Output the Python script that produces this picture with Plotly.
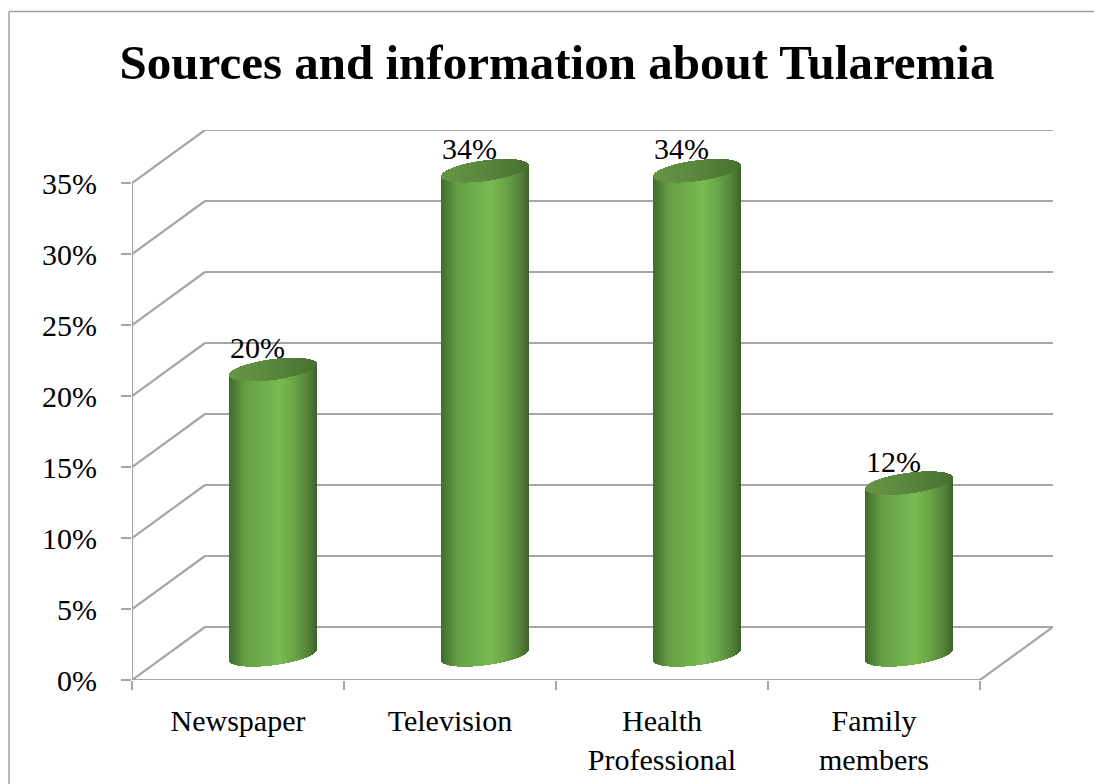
import numpy as np
import plotly.graph_objects as go

# Chart content
title_text = "Sources and information about Tularemia"
categories = ["Newspaper", "Television", "Health<br>Professional", "Family<br>members"]
shares = [20, 34, 34, 12]
share_labels = ["20%", "34%", "34%", "12%"]
y_ticks = [0, 5, 10, 15, 20, 25, 30, 35]
y_tick_labels = ["0%", "5%", "10%", "15%", "20%", "25%", "30%", "35%"]

# Page layout in pixels
WIDTH, HEIGHT = 1094, 784
LEFT, RIGHT, TOP, BOTTOM = 132, 1053, 130, 680
PX_X = 212.0      # pixels per category
PX_Y = 14.2       # pixels per percentage point
DEPTH_X = 73 / PX_X
DEPTH_Y = 53 / PX_Y

GRID = "#a6a6a6"
FONT = "Liberation Serif"

# Body shading, left to right across a cylinder
BODY_STOPS = [(0.0, (64, 108, 44)), (0.06, (76, 124, 52)), (0.18, (102, 158, 68)),
              (0.42, (112, 176, 78)), (0.58, (120, 186, 82)), (0.75, (104, 162, 70)),
              (0.90, (84, 130, 56)), (1.0, (60, 98, 42))]
CAP_STOPS = [(0.0, (104, 150, 72)), (0.5, (88, 134, 60)), (1.0, (72, 112, 48))]


def shade(t, stops):
    pos = [s[0] for s in stops]
    rgb = [np.interp(t, pos, [s[1][c] for s in stops]) for c in range(3)]
    return "rgb({:.0f},{:.0f},{:.0f})".format(*rgb)


def cylinder_traces(index, value):
    """Body and cap of one cylinder, drawn as one-pixel-wide bars."""
    half_w, half_h, tilt = 44, 10.5, 5.5
    centre = index + 0.5 + DEPTH_X / 2 - 1.5 / PX_X
    offsets = np.arange(-half_w + 0.5, half_w, 1.0)
    u = offsets / half_w
    rim = half_h * np.sqrt(1 - u ** 2) / PX_Y
    skew = tilt * u / PX_Y
    xs = centre + offsets / PX_X
    floor = DEPTH_Y / 2 - 0.1
    top = value + DEPTH_Y / 2
    t = (u + 1) / 2
    body = go.Bar(
        x=xs, base=floor + skew - rim, y=top + skew - floor - skew + rim,
        width=1 / PX_X, marker=dict(color=[shade(v, BODY_STOPS) for v in t], line=dict(width=0)),
        hoverinfo="skip", showlegend=False,
    )
    cap = go.Bar(
        x=xs, base=top + skew - rim, y=2 * rim,
        width=1 / PX_X, marker=dict(color=[shade(v, CAP_STOPS) for v in t], line=dict(width=0)),
        hoverinfo="skip", showlegend=False,
    )
    return body, cap


fig = go.Figure()
for i, v in enumerate(shares):
    for tr in cylinder_traces(i, v):
        fig.add_trace(tr)

# Value labels sit near the back-left of each cap
fig.add_trace(go.Scatter(
    x=[i + 0.5 + DEPTH_X / 2 - 17 / PX_X for i in range(len(shares))],
    y=[v + DEPTH_Y / 2 + 19 / PX_Y for v in shares],
    mode="text", text=share_labels, textposition="middle center",
    textfont=dict(family=FONT, size=30, color="#000000"),
    hoverinfo="skip", showlegend=False, cliponaxis=False,
))


def wall_line(x0, y0, x1, y1):
    return dict(type="line", xref="x", yref="y", x0=x0, y0=y0, x1=x1, y1=y1,
                layer="below", line=dict(color=GRID, width=2.2))


n = len(categories)
shapes = []
for tick in y_ticks:
    shapes.append(wall_line(DEPTH_X, tick + DEPTH_Y, n + DEPTH_X, tick + DEPTH_Y))
    shapes.append(wall_line(0, tick, DEPTH_X, tick + DEPTH_Y))
shapes.append(wall_line(0, 0, 0, y_ticks[-1]))
shapes.append(wall_line(0, 0, n, 0))
shapes.append(wall_line(n, 0, n + DEPTH_X, DEPTH_Y))
# Outer frame: left and top edges of the slide area
frame = dict(color="#a0a0a0", width=1.5)
shapes.append(dict(type="line", xref="paper", yref="paper", layer="below", line=frame,
                   x0=(9 - LEFT) / (RIGHT - LEFT), x1=(9 - LEFT) / (RIGHT - LEFT),
                   y0=(BOTTOM - HEIGHT) / (BOTTOM - TOP), y1=(BOTTOM - 11.5) / (BOTTOM - TOP)))
shapes.append(dict(type="line", xref="paper", yref="paper", layer="below", line=frame,
                   x0=(9 - LEFT) / (RIGHT - LEFT), x1=(WIDTH - LEFT) / (RIGHT - LEFT),
                   y0=(BOTTOM - 11.5) / (BOTTOM - TOP), y1=(BOTTOM - 11.5) / (BOTTOM - TOP)))

fig.update_layout(
    width=WIDTH, height=HEIGHT,
    margin=dict(l=LEFT, r=WIDTH - RIGHT, t=TOP, b=HEIGHT - BOTTOM, pad=0, autoexpand=False),
    paper_bgcolor="#ffffff", plot_bgcolor="#ffffff",
    barmode="overlay", bargap=0, showlegend=False, hovermode=False,
    shapes=shapes,
    font=dict(family=FONT, size=30, color="#000000"),
    title=dict(text=title_text, x=557 / WIDTH, xanchor="center", y=1 - 62 / HEIGHT, yanchor="middle",
               font=dict(family=FONT, size=49, color="#000000", weight="bold")),
    xaxis=dict(
        range=[0, n + DEPTH_X], showgrid=False, zeroline=False, showline=False,
        tickmode="array", tickvals=[i + 0.5 for i in range(n)], ticktext=categories,
        ticks="", ticklabelstandoff=20,
        tickfont=dict(family=FONT, size=30, color="#000000"),
        minor=dict(tickmode="array", tickvals=list(range(n + 1)), ticks="outside",
                   ticklen=9, tickwidth=2, tickcolor=GRID, showgrid=False),
    ),
    yaxis=dict(
        range=[0, y_ticks[-1] + DEPTH_Y], showgrid=False, zeroline=False, showline=False,
        tickmode="array", tickvals=y_ticks, ticktext=y_tick_labels,
        ticks="outside", ticklen=10, tickwidth=2, tickcolor=GRID, ticklabelstandoff=18,
        tickfont=dict(family=FONT, size=30, color="#000000"),
    ),
)

fig.write_html("out.html")
